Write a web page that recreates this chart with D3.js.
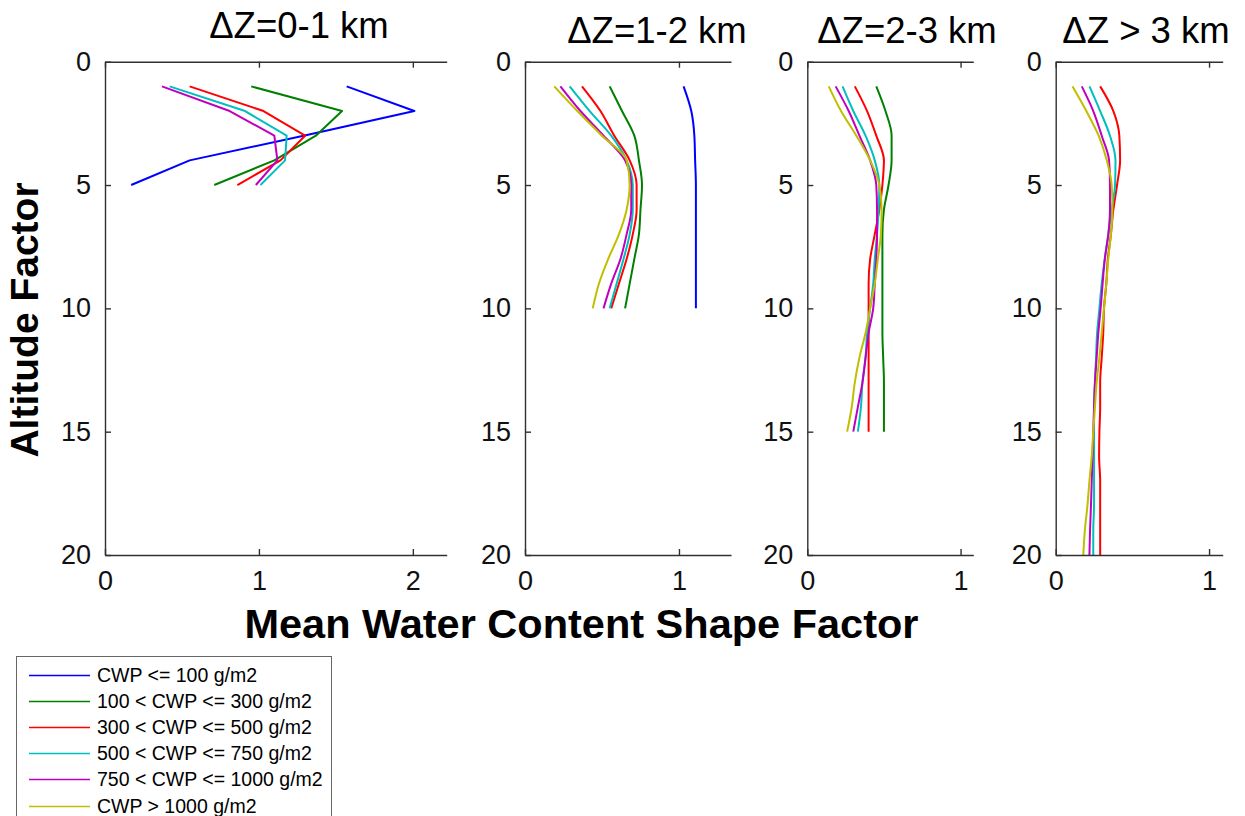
<!DOCTYPE html>
<html>
<head>
<meta charset="utf-8">
<script src="https://cdn.jsdelivr.net/npm/d3@7"></script>
<style>
  html, body { margin: 0; padding: 0; background: #fff; }
  svg { display: block; font-family: "Liberation Sans", Arial, Helvetica, sans-serif; }
</style>
</head>
<body>
<svg id="chart" width="1245" height="816"></svg>
<script>
// ---------------- DATA ----------------
const categories = [
  "CWP <= 100 g/m2",
  "100 < CWP <= 300 g/m2",
  "300 < CWP <= 500 g/m2",
  "500 < CWP <= 750 g/m2",
  "750 < CWP <= 1000 g/m2",
  "CWP > 1000 g/m2"
];
const seriesColors = ["#0000ff", "#008000", "#ff0000", "#00bfbf", "#bf00bf", "#bfbf00"];

const panelTitles = ["\u0394Z=0-1 km", "\u0394Z=1-2 km", "\u0394Z=2-3 km", "\u0394Z > 3 km"];
const xMaxes = [2.22, 1.338, 1.083, 1.089];
const xTickValues = [[0, 1, 2], [0, 1], [0, 1], [0, 1]];
const yTickValues = [0, 5, 10, 15, 20];

const altitudes1 = [1, 2, 3, 4, 5];
const altitudes2 = [1, 2, 3, 4, 5, 6, 7, 8, 9, 10];
const altitudes3 = [1, 2, 3, 4, 5, 6, 7, 8, 9, 10, 11, 12, 13, 14, 15];
const altitudes4 = [1, 2, 3, 4, 5, 6, 7, 8, 9, 10, 11, 12, 13, 14, 15, 16, 17, 18, 19, 20];

// panel 1 (dZ = 0-1 km), one array per CWP class (null = not drawn)
const panel1Values = [
  [1.57, 2.01, 1.29, 0.55, 0.17],
  [0.95, 1.54, 1.37, 1.10, 0.71],
  [0.55, 1.03, 1.30, 1.14, 0.86],
  [0.42, 0.91, 1.18, 1.17, 1.01],
  [0.37, 0.81, 1.10, 1.12, 0.98],
  null
];
// panel 2 (dZ = 1-2 km)
const panel2Values = [
  [1.03, 1.08, 1.10, 1.105, 1.11, 1.11, 1.11, 1.11, 1.11, 1.11],
  [0.55, 0.63, 0.71, 0.74, 0.76, 0.75, 0.74, 0.71, 0.68, 0.65],
  [0.37, 0.49, 0.58, 0.68, 0.725, 0.725, 0.70, 0.66, 0.61, 0.56],
  [0.29, 0.42, 0.56, 0.66, 0.70, 0.70, 0.68, 0.64, 0.595, 0.55],
  [0.23, 0.36, 0.51, 0.65, 0.69, 0.69, 0.66, 0.62, 0.56, 0.51],
  [0.19, 0.34, 0.50, 0.66, 0.68, 0.66, 0.61, 0.54, 0.48, 0.44]
];
// panel 3 (dZ = 2-3 km)
const panel3Values = [
  null,
  [0.45, 0.51, 0.55, 0.55, 0.53, 0.50, 0.49, 0.49, 0.49, 0.49, 0.49, 0.495, 0.50, 0.50, 0.50],
  [0.31, 0.39, 0.45, 0.50, 0.49, 0.47, 0.44, 0.41, 0.40, 0.40, 0.40, 0.40, 0.40, 0.40, 0.40],
  [0.23, 0.30, 0.38, 0.44, 0.47, 0.465, 0.455, 0.44, 0.43, 0.41, 0.39, 0.38, 0.36, 0.35, 0.33],
  [0.185, 0.27, 0.34, 0.41, 0.45, 0.455, 0.455, 0.45, 0.44, 0.43, 0.40, 0.38, 0.36, 0.33, 0.30],
  [0.14, 0.22, 0.32, 0.41, 0.47, 0.485, 0.48, 0.46, 0.44, 0.41, 0.38, 0.34, 0.31, 0.29, 0.26]
];
// panel 4 (dZ > 3 km)
const panel4Values = [
  null,
  null,
  [0.29, 0.376, 0.415, 0.42, 0.40, 0.376, 0.36, 0.34, 0.33, 0.315, 0.31, 0.30, 0.29, 0.29, 0.285, 0.283, 0.29, 0.29, 0.29, 0.29],
  [0.22, 0.29, 0.354, 0.39, 0.387, 0.365, 0.343, 0.32, 0.30, 0.285, 0.27, 0.263, 0.256, 0.25, 0.25, 0.25, 0.25, 0.25, 0.245, 0.245],
  [0.17, 0.245, 0.30, 0.348, 0.354, 0.354, 0.343, 0.32, 0.306, 0.293, 0.278, 0.267, 0.256, 0.25, 0.245, 0.24, 0.235, 0.23, 0.224, 0.22],
  [0.11, 0.20, 0.28, 0.333, 0.365, 0.37, 0.36, 0.343, 0.33, 0.315, 0.30, 0.285, 0.267, 0.256, 0.245, 0.235, 0.22, 0.207, 0.19, 0.18]
];

const xLabel = "Mean Water Content Shape Factor";
const yLabel = "Altitude Factor";

// ---------------- LAYOUT ----------------
const panels = [
  { left: 105, right: 446.7, alt: altitudes1, vals: panel1Values, titleX: 299, titleY: 38, smooth: false },
  { left: 525, right: 731, alt: altitudes2, vals: panel2Values, titleX: 657, titleY: 43, smooth: true },
  { left: 807.3, right: 973.3, alt: altitudes3, vals: panel3Values, titleX: 907, titleY: 43, smooth: true },
  { left: 1055.7, right: 1222.7, alt: altitudes4, vals: panel4Values, titleX: 1146, titleY: 43, smooth: true }
];
const plotTop = 61.7, plotBottom = 555;
const axisColor = "#303030";
const tickFont = 27;

const svg = d3.select("#chart");
const yScale = d3.scaleLinear().domain([0, 20]).range([plotTop, plotBottom]);

panels.forEach((p, i) => {
  const x = d3.scaleLinear().domain([0, xMaxes[i]]).range([p.left, p.right]);
  const g = svg.append("g");

  // lines
  const line = d3.line()
    .x(d => x(d[0]))
    .y(d => yScale(d[1]))
    .curve(p.smooth ? d3.curveMonotoneY : d3.curveLinear);
  p.vals.forEach((vals, k) => {
    if (!vals) return;
    const pts = vals.map((v, j) => [v, p.alt[j]]);
    g.append("path")
      .attr("d", line(pts))
      .attr("fill", "none")
      .attr("stroke", seriesColors[k])
      .attr("stroke-width", 2)
      .attr("stroke-linejoin", "round");
  });

  // bottom axis
  const bAxis = d3.axisBottom(x).tickValues(xTickValues[i]).tickFormat(d3.format("d"))
    .tickSizeInner(-6).tickSizeOuter(0).tickPadding(14);
  const bg = g.append("g").attr("transform", `translate(0,${plotBottom})`).call(bAxis);
  // top axis (ticks only, no labels)
  const tAxis = d3.axisTop(x).tickValues(xTickValues[i]).tickFormat("")
    .tickSizeInner(-6).tickSizeOuter(0);
  const tg = g.append("g").attr("transform", `translate(0,${plotTop})`).call(tAxis);
  // left axis
  const lAxis = d3.axisLeft(yScale).tickValues(yTickValues).tickFormat(d3.format("d"))
    .tickSizeInner(-6).tickSizeOuter(0).tickPadding(14);
  const lg = g.append("g").attr("transform", `translate(${p.left},0)`).call(lAxis);

  [bg, tg, lg].forEach(a => {
    a.select(".domain").attr("stroke", axisColor).attr("stroke-width", 1.4);
    a.selectAll(".tick line").attr("stroke", axisColor).attr("stroke-width", 1.4);
    a.selectAll(".tick text")
      .attr("fill", "#111")
      .style("font-size", tickFont + "px")
      .style("font-family", "'Liberation Sans', Arial, sans-serif");
  });
  bg.selectAll(".tick text").attr("dy", "0.78em");

  // title
  svg.append("text")
    .attr("x", p.titleX)
    .attr("y", p.titleY)
    .attr("text-anchor", "middle")
    .attr("fill", "#000")
    .style("font-size", "36.5px")
    .text(panelTitles[i]);
});

// axis labels
svg.append("text")
  .attr("x", 581.5)
  .attr("y", 638)
  .attr("text-anchor", "middle")
  .attr("fill", "#000")
  .style("font-size", "41.5px")
  .style("font-weight", "bold")
  .text(xLabel);

svg.append("text")
  .attr("transform", "translate(38,320) rotate(-90)")
  .attr("text-anchor", "middle")
  .attr("fill", "#000")
  .style("font-size", "39px")
  .style("font-weight", "bold")
  .text(yLabel);

// legend
const legend = svg.append("g");
legend.append("rect")
  .attr("x", 16.5).attr("y", 656.5)
  .attr("width", 315).attr("height", 180)
  .attr("fill", "#fff")
  .attr("stroke", "#666")
  .attr("stroke-width", 1);
const rowY = d3.scaleLinear().domain([0, 5]).range([675, 805.5]);
categories.forEach((c, k) => {
  legend.append("line")
    .attr("x1", 29).attr("x2", 90)
    .attr("y1", Math.round(rowY(k)) + 0.5).attr("y2", Math.round(rowY(k)) + 0.5)
    .attr("stroke", seriesColors[k])
    .attr("stroke-width", 1.3);
  legend.append("text")
    .attr("x", 97)
    .attr("y", rowY(k))
    .attr("dy", "0.36em")
    .attr("fill", "#000")
    .style("font-size", "19.5px")
    .text(c);
});
</script>
</body>
</html>
